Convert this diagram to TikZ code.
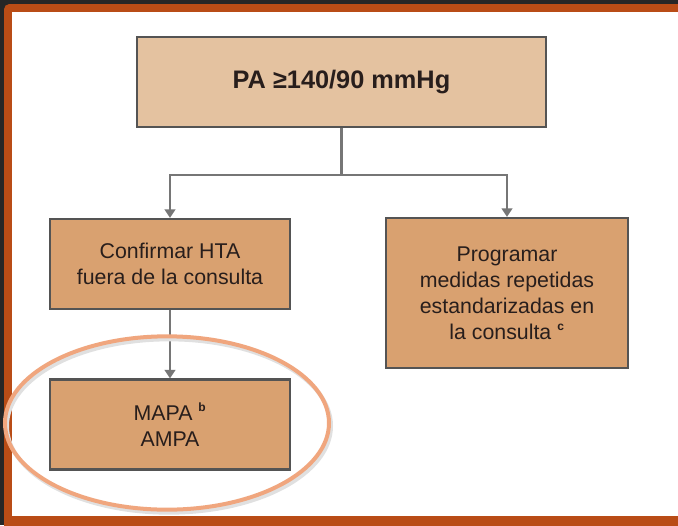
\documentclass[tikz,border=0pt]{standalone}
\usepackage{fontspec}
\setmainfont{Liberation Sans}
\usetikzlibrary{arrows.meta,positioning,calc}

\definecolor{framebrown}{RGB}{185,76,22}
\definecolor{outerdark}{RGB}{38,38,38}
\definecolor{boxlight}{RGB}{228,194,160}
\definecolor{boxdark}{RGB}{217,161,112}
\definecolor{boxline}{RGB}{84,84,84}
\definecolor{linkgray}{RGB}{118,118,118}
\definecolor{ringsalmon}{RGB}{240,166,126}
\definecolor{textdark}{RGB}{40,30,28}

\newcommand{\supmark}[1]{\textsuperscript{\fontsize{9}{9}\selectfont\textbf{#1}}}

\begin{document}
\begin{tikzpicture}[x=0.75pt, y=-0.75pt]

\tikzstyle{cell} = [rectangle, draw=boxline, line width=1.6pt, fill=boxdark, text=textdark, minimum width=180pt, minimum height=67.5pt, align=center, font=\fontsize{16}{19.5}\selectfont]
\tikzstyle{headcell} = [cell, fill=boxlight, minimum width=306.75pt, font=\fontsize{19}{23}\selectfont\bfseries]
\tikzstyle{link} = [draw=linkgray, line width=1.8pt]
\tikzstyle{arrow} = [link, -{Triangle[length=6.5pt, width=8pt]}]
\tikzstyle{ring} = [draw=ringsalmon, line width=3pt]

%% ------------------
%% -- FRAME --
%% ------------------
\useasboundingbox (0,0) rectangle (678,525);
\fill[outerdark] (0,0) rectangle (678,525);
\fill[framebrown, rounded corners=4pt] (4,4) rectangle (690,540);
\fill[white] (12,12) rectangle (678,516);

%% ------------------
%% -- BOXES --
%% ------------------
\node (pa)      [headcell] at (341.5,82) {PA ≥140/90 mmHg};
\node (confirm) [cell] at (170,264) {Confirmar HTA\\fuera de la consulta};
\node (program) [cell, minimum width=181.5pt, minimum height=112.5pt] at (507,293) {Programar\\medidas repetidas\\estandarizadas en\\la consulta \supmark{c}};
\node (mapa)    [cell] at (170,424.5) {MAPA \supmark{b}\\AMPA};

% connectors
\coordinate (split) at (341.5,175);
\draw [link] (pa.south) -- (split);
\draw [arrow] (split) -| (confirm.north);
\draw [arrow] (split) -| (program.north);
\draw [arrow] (confirm.south) -- (mapa.north);

% highlight round the out-of-office box
\draw [black!12, line width=3pt] (169,426) ellipse [x radius=121.5pt, y radius=65pt];
\draw [ring] (167,423) ellipse [x radius=121.5pt, y radius=65pt];

\end{tikzpicture}
\end{document}
